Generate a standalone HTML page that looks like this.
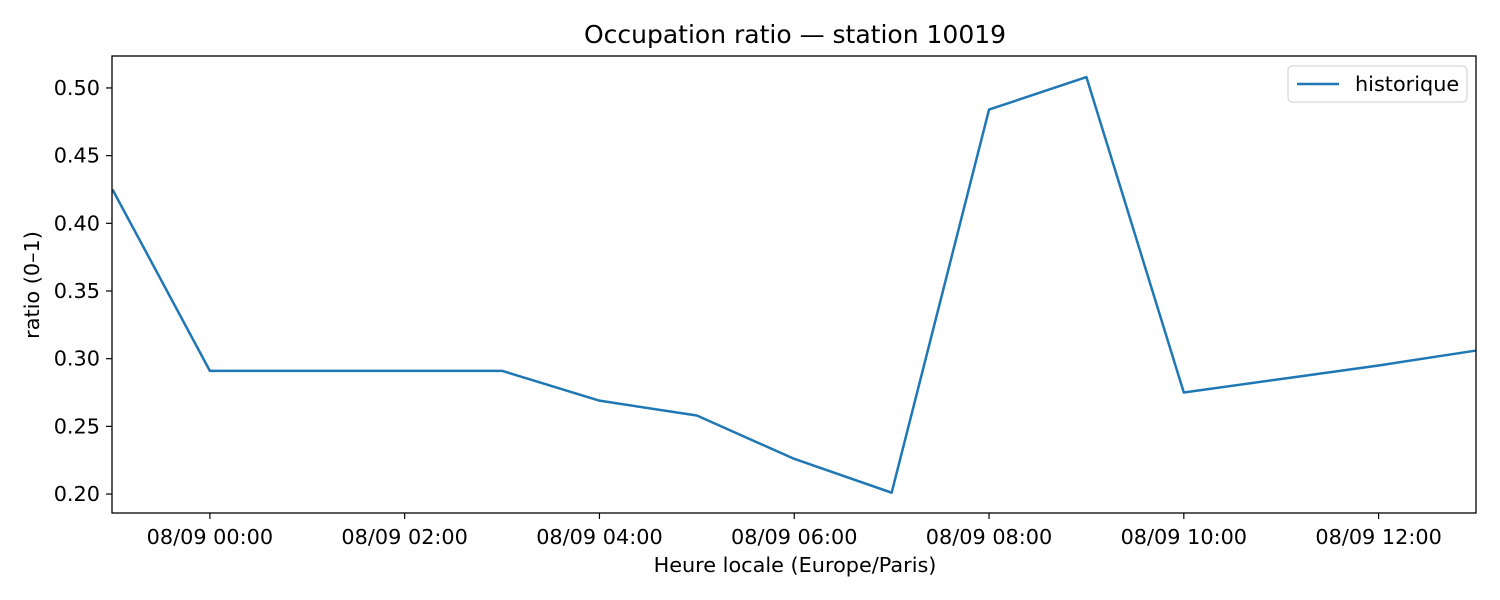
<!DOCTYPE html>
<html><head><meta charset="utf-8"><style>
body{margin:0;background:#fff;}
svg{display:block;font-family:"DejaVu Sans","Liberation Sans",sans-serif;}
</style></head><body>
<svg id="chart" width="1500" height="600" viewBox="0 0 1500 600">
<rect width="1500" height="600" fill="#fff"/>
<text x="795" y="43" font-size="25" text-anchor="middle" fill="#000">Occupation ratio — station 10019</text>
<g id="grid"></g>
<g id="series"></g>
<rect x="112" y="56" width="1364" height="457" fill="none" stroke="#000" stroke-width="1.3"/>
<text x="795" y="572" font-size="20.8" text-anchor="middle">Heure locale (Europe/Paris)</text>
<text x="0" y="0" font-size="20.8" text-anchor="middle" transform="translate(39,285) rotate(-90)">ratio (0–1)</text>
<g>
<rect x="1288" y="66" width="179" height="36" rx="4" fill="#fff" stroke="#ccc"/>
<line x1="1297" y1="84" x2="1339" y2="84" stroke="#1f77b4" stroke-width="2.5"/>
<text x="1355" y="91" font-size="20.8">historique</text>
</g>
</svg>
<script>
const hours = [-1,0,1,2,3,4,5,6,7,8,9,10,11,12,13];
const ratios = [0.425,0.291,0.291,0.291,0.291,0.269,0.258,0.226,0.201,0.484,0.508,0.275,0.285,0.295,0.306];
const yTicks = [0.20,0.25,0.30,0.35,0.40,0.45,0.50];
const xTickHours = [0,2,4,6,8,10,12];
const xTickLabels = ["08/09 00:00","08/09 02:00","08/09 04:00","08/09 06:00","08/09 08:00","08/09 10:00","08/09 12:00"];
const NS="http://www.w3.org/2000/svg";
const L=112,R=1476,T=56,B=513;
const x0=-1.005,x1=13.0, y0=0.186,y1=0.5236;
const xs=h=>L+(h-x0)/(x1-x0)*(R-L);
const ys=v=>B-(v-y0)/(y1-y0)*(B-T);
const g=document.getElementById('grid'), s=document.getElementById('series');
function mk(tag,attrs,parent){const e=document.createElementNS(NS,tag);for(const k in attrs)e.setAttribute(k,attrs[k]);parent.appendChild(e);return e;}
yTicks.forEach(v=>{
  const y=ys(v);
  const l=mk('line',{x1:L-6,x2:L,y1:y,y2:y,stroke:'#000','stroke-width':1.2},g);
  
  
  const t=mk('text',{x:L-12,y:y+7,'font-size':20.8,'text-anchor':'end'},g);
  t.textContent=v.toFixed(2);
  
  
});
xTickHours.forEach((h,i)=>{
  const x=xs(h);
  const l=mk('line',{x1:x,x2:x,y1:B,y2:B+6,stroke:'#000','stroke-width':1.2},g);
  
  
  const t=mk('text',{x:x,y:B+31,'font-size':20.8,'text-anchor':'middle'},g);
  t.textContent=xTickLabels[i];
  
  
});
const pts=hours.map((h,i)=>xs(h)+','+ys(ratios[i])).join(' ');
const pl=mk('polyline',{points:pts,fill:'none',stroke:'#1f77b4','stroke-width':2.5,'stroke-linejoin':'round'},s);


</script>
</body></html>
